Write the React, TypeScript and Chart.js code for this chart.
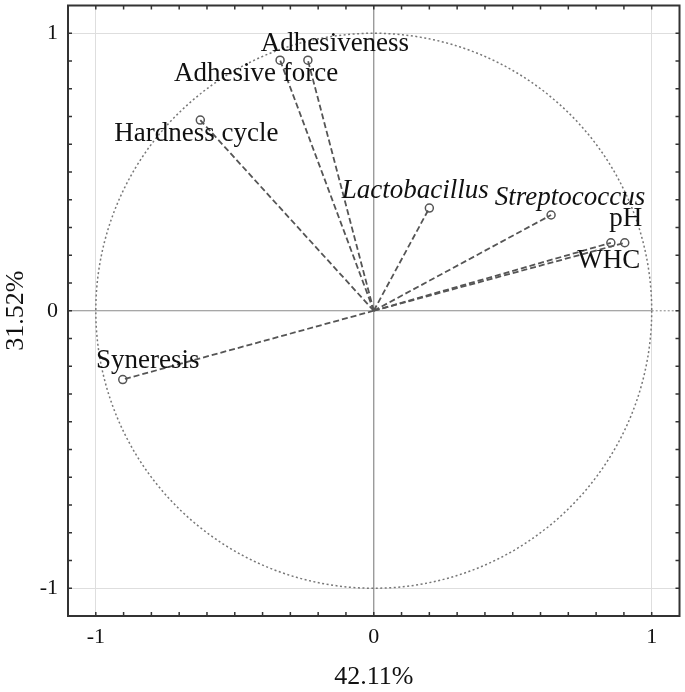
import React, { useEffect, useRef } from "react";
import { Chart, registerables } from "chart.js";

Chart.register(...registerables);

const variables = ["Adhesiveness", "Adhesive force", "Hardness cycle", "Lactobacillus", "Streptococcus", "pH", "WHC", "Syneresis"];
const pc1 = [-0.237, -0.337, -0.624, 0.2, 0.638, 0.903, 0.853, -0.903];
const pc2 = [0.903, 0.903, 0.687, 0.37, 0.345, 0.245, 0.245, -0.248];
const italicNames = ["Lactobacillus", "Streptococcus"];
const tickLabels = ["-1", "0", "1"];
const xTitle = "42.11%";
const yTitle = "31.52%";

// label placement relative to marker (pixels): style only
const labelOffsets: Record<string, [number, number]> = {
  Adhesiveness: [27, -16],
  "Adhesive force": [-24, 14],
  "Hardness cycle": [-4, 14],
  Lactobacillus: [-14, -17],
  Streptococcus: [19, -17],
  pH: [1, -24],
  WHC: [-2, 18],
  Syneresis: [25, -19],
};

const FONT = "'Liberation Serif', 'Times New Roman', serif";

const tickCb = (v: any) => {
  const r = Math.round(Number(v) * 10) / 10;
  const s = r === -1 ? "-1" : r === 0 ? "0" : r === 1 ? "1" : "";
  return tickLabels.includes(s) ? s : "";
};

const decorPlugin = {
  id: "decor",
  beforeDatasetsDraw(chart: any) {
    const { ctx, chartArea: a, scales } = chart;
    const xs = scales.x, ys = scales.y;
    ctx.save();
    const x0 = xs.getPixelForValue(0), y0 = ys.getPixelForValue(0);
    const x1 = xs.getPixelForValue(1);
    ctx.strokeStyle = "#8a8a8a";
    ctx.lineWidth = 1.2;
    ctx.beginPath();
    ctx.moveTo(x0, a.top); ctx.lineTo(x0, a.bottom);
    ctx.moveTo(a.left, y0); ctx.lineTo(x1, y0);
    ctx.stroke();
    ctx.setLineDash([2, 2]);
    ctx.strokeStyle = "#999";
    ctx.beginPath();
    ctx.moveTo(x1, y0); ctx.lineTo(a.right, y0);
    ctx.stroke();
    const rx = xs.getPixelForValue(1) - x0;
    const ry = y0 - ys.getPixelForValue(1);
    ctx.strokeStyle = "#777";
    ctx.lineWidth = 1.5;
    ctx.setLineDash([2, 2.5]);
    ctx.beginPath();
    ctx.ellipse(x0, y0, rx, ry, 0, 0, Math.PI * 2);
    ctx.stroke();
    ctx.restore();
  },
  afterDatasetsDraw(chart: any) {
    const { ctx, chartArea: a, scales } = chart;
    const xs = scales.x, ys = scales.y;
    ctx.save();
    ctx.fillStyle = "#111";
    ctx.textAlign = "center";
    ctx.textBaseline = "middle";
    variables.forEach((name, i) => {
      const px = xs.getPixelForValue(pc1[i]);
      const py = ys.getPixelForValue(pc2[i]);
      const off = labelOffsets[name] || [0, -15];
      ctx.font = (italicNames.includes(name) ? "italic " : "") + `27px ${FONT}`;
      ctx.fillText(name, px + off[0], py + off[1]);
    });
    ctx.strokeStyle = "#333";
    ctx.lineWidth = 2;
    ctx.setLineDash([]);
    ctx.strokeRect(a.left, a.top, a.right - a.left, a.bottom - a.top);
    ctx.lineWidth = 1.5;
    ctx.beginPath();
    for (let k = -11; k <= 11; k++) {
      const v = k / 10;
      const px = xs.getPixelForValue(v);
      const py = ys.getPixelForValue(v);
      if (px > a.left + 2 && px < a.right - 2) {
        ctx.moveTo(px, a.top); ctx.lineTo(px, a.top + 4);
        ctx.moveTo(px, a.bottom); ctx.lineTo(px, a.bottom - 4);
      }
      if (py > a.top + 2 && py < a.bottom - 2) {
        ctx.moveTo(a.left, py); ctx.lineTo(a.left + 4, py);
        ctx.moveTo(a.right, py); ctx.lineTo(a.right - 4, py);
      }
    }
    ctx.stroke();
    ctx.fillStyle = "#111";
    ctx.font = `26px ${FONT}`;
    ctx.textAlign = "center";
    ctx.textBaseline = "middle";
    ctx.fillText(xTitle, xs.getPixelForValue(0), 677);
    ctx.translate(16, ys.getPixelForValue(0));
    ctx.rotate(-Math.PI / 2);
    ctx.fillText(yTitle, 0, 0);
    ctx.restore();
  },
};

export default function App() {
  const ref = useRef<HTMLCanvasElement>(null);
  useEffect(() => {
    if (!ref.current) return;
    const datasets = variables.map((name, i) => ({
      label: name,
      data: [{ x: 0, y: 0 }, { x: pc1[i], y: pc2[i] }],
      showLine: true,
      borderColor: "#555",
      borderWidth: 1.8,
      borderDash: [6, 3],
      pointRadius: [0, 4],
      pointBorderColor: "#555",
      pointBackgroundColor: "rgba(255,255,255,0)",
      pointBorderWidth: 1.5,
    }));
    const gridColor = (c: any) => {
      const v = Math.round(c.tick.value * 10) / 10;
      return Math.abs(v) === 1 ? "#dedede" : "rgba(0,0,0,0)";
    };
    const zeroPad = (s: any) => {
      s.paddingTop = 0; s.paddingBottom = 0; s.paddingLeft = 0; s.paddingRight = 0;
    };
    const chart = new Chart(ref.current, {
      type: "scatter",
      data: { datasets },
      plugins: [decorPlugin],
      options: {
        animation: false,
        responsive: false,
        layout: { padding: { top: 3, right: 3, left: 0, bottom: 0 } },
        plugins: { legend: { display: false }, tooltip: { enabled: false } },
        scales: {
          x: {
            type: "linear",
            min: -1.1,
            max: 1.1,
            grid: { color: gridColor, drawTicks: false, lineWidth: 1 },
            border: { display: false },
            ticks: { stepSize: 0.1, autoSkip: false, maxRotation: 0, callback: tickCb, color: "#111", font: { family: FONT, size: 22 }, padding: 8 },
            afterFit: (s: any) => { s.height = 76; zeroPad(s); },
          },
          y: {
            type: "linear",
            min: -1.1,
            max: 1.1,
            grid: { color: gridColor, drawTicks: false, lineWidth: 1 },
            border: { display: false },
            ticks: { stepSize: 0.1, autoSkip: false, callback: tickCb, color: "#111", font: { family: FONT, size: 22 }, padding: 10 },
            afterFit: (s: any) => { s.width = 68; zeroPad(s); },
          },
        },
      },
    } as any);
    return () => chart.destroy();
  }, []);
  return (
    <div style={{ position: "fixed", left: 0, top: 0, width: 685, height: 692, background: "#fff" }}>
      <canvas ref={ref} width={685} height={692} style={{ width: 685, height: 692 }} />
    </div>
  );
}
